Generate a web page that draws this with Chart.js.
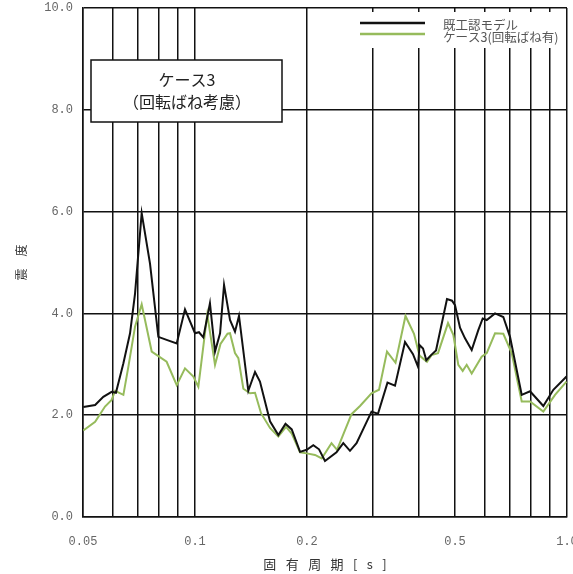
<!DOCTYPE html>
<html lang="ja">
<head>
<meta charset="UTF-8">
<title>ケース3 震度</title>
<script src="https://cdn.jsdelivr.net/npm/chart.js"></script>
<style>
  html, body { margin: 0; padding: 0; background: #fff; }
  #wrap { width: 573px; height: 574px; }
</style>
</head>
<body>
<div id="wrap"><canvas id="chart" width="573" height="574"></canvas></div>
<script>
// 固有周期 [s] と震度
const baseLabel = '既工認モデル';
const basePeriods = [0.0501, 0.0539, 0.0567, 0.0597, 0.0613, 0.0642, 0.0669, 0.0690, 0.0719, 0.0757,
  0.0797, 0.0839, 0.0893, 0.0940, 0.1000, 0.1025, 0.1053, 0.1097, 0.1132, 0.1168,
  0.1197, 0.1242, 0.1281, 0.1313, 0.1391, 0.1450, 0.1495, 0.1591, 0.1675, 0.1751,
  0.1820, 0.1916, 0.1997, 0.2080, 0.2155, 0.2236, 0.2401, 0.2504, 0.2610, 0.2718,
  0.2982, 0.3104, 0.3292, 0.3449, 0.3669, 0.3855, 0.3977, 0.4014, 0.4102, 0.4186,
  0.4310, 0.4445, 0.4758, 0.4908, 0.5000, 0.5157, 0.5319, 0.5544, 0.5775, 0.5935,
  0.6084, 0.6405, 0.6742, 0.7028, 0.7556, 0.7955, 0.8637, 0.9189, 0.9970];
const baseValues = [2.16, 2.20, 2.36, 2.46, 2.44, 3.02, 3.61, 4.39, 5.97, 4.98,
  3.54, 3.48, 3.41, 4.08, 3.61, 3.63, 3.53, 4.20, 3.25, 3.61,
  4.56, 3.87, 3.64, 3.95, 2.48, 2.85, 2.66, 1.88, 1.61, 1.83,
  1.72, 1.28, 1.32, 1.41, 1.33, 1.10, 1.27, 1.45, 1.30, 1.45,
  2.07, 2.03, 2.64, 2.58, 3.44, 3.20, 2.95, 3.38, 3.31, 3.08,
  3.18, 3.27, 4.28, 4.25, 4.16, 3.72, 3.51, 3.28, 3.67, 3.90,
  3.87, 4.00, 3.93, 3.54, 2.40, 2.47, 2.18, 2.50, 2.76];

const caseLabel = 'ケース3(回転ばね有)';
const casePeriods = [0.0501, 0.0539, 0.0573, 0.0597, 0.0610, 0.0642, 0.0662, 0.0690, 0.0719, 0.0765,
  0.0839, 0.0893, 0.0940, 0.0990, 0.1021, 0.1079, 0.1132, 0.1171, 0.1223, 0.1242,
  0.1281, 0.1308, 0.1349, 0.1406, 0.1450, 0.1505, 0.1591, 0.1675, 0.1757, 0.1820,
  0.1916, 0.1997, 0.2102, 0.2191, 0.2328, 0.2409, 0.2635, 0.2777, 0.2982, 0.3124,
  0.3282, 0.3460, 0.3680, 0.3879, 0.4014, 0.4204, 0.4323, 0.4501, 0.4788, 0.4948,
  0.5103, 0.5244, 0.5375, 0.5544, 0.5898, 0.6084, 0.6405, 0.6742, 0.7102, 0.7556,
  0.7955, 0.8637, 0.9286, 0.9970];
const caseValues = [1.70, 1.87, 2.17, 2.30, 2.48, 2.40, 2.95, 3.74, 4.18, 3.25,
  3.05, 2.59, 2.92, 2.76, 2.56, 3.98, 2.99, 3.40, 3.60, 3.61,
  3.22, 3.12, 2.52, 2.43, 2.44, 2.04, 1.75, 1.58, 1.77, 1.64,
  1.27, 1.25, 1.22, 1.15, 1.45, 1.32, 2.02, 2.18, 2.43, 2.50,
  3.25, 3.03, 3.95, 3.60, 3.17, 3.05, 3.18, 3.22, 3.81, 3.58,
  2.99, 2.87, 2.99, 2.82, 3.15, 3.22, 3.61, 3.60, 3.22, 2.27,
  2.27, 2.07, 2.40, 2.66];

const xGridValues = [0.05, 0.06, 0.07, 0.08, 0.09, 0.1, 0.2, 0.3, 0.4, 0.5, 0.6, 0.7, 0.8, 0.9, 1.0];
const xTickLabels = { 0.05: '0.05', 0.1: '0.1', 0.2: '0.2', 0.5: '0.5', 1: '1.0' };
const yTicks = [0, 2, 4, 6, 8, 10];
const noteLines = ['ケース3', '（回転ばね考慮）'];

const jpFont = '"Noto Sans CJK JP", "Noto Sans", sans-serif';
const numFont = '"Liberation Mono", "DejaVu Sans Mono", monospace';

function toXY(periods, values) {
    return periods.map((p, i) => ({ x: p, y: values[i] }));
}

// 注記ボックスと凡例
const overlayPlugin = {
    id: 'overlay',
    afterDatasetsDraw(chart) {
        const ctx = chart.ctx;
        ctx.save();
        // 注記
        ctx.fillStyle = '#fff';
        ctx.fillRect(91, 60, 191, 62);
        ctx.strokeStyle = '#111';
        ctx.lineWidth = 1.5;
        ctx.strokeRect(91, 60, 191, 62);
        ctx.fillStyle = '#222';
        ctx.font = '16px ' + jpFont;
        ctx.textAlign = 'center';
        ctx.textBaseline = 'middle';
        ctx.fillText(noteLines[0], 187, 80);
        ctx.fillText(noteLines[1], 187, 102);

        // 凡例
        ctx.fillStyle = '#fff';
        ctx.fillRect(360, 12, 205, 36);
        const ds = chart.data.datasets;
        const lineRows = [23, 34];
        const textRows = [25, 37];
        ds.forEach((d, i) => {
            ctx.strokeStyle = d.borderColor;
            ctx.lineWidth = 2.5;
            ctx.beginPath();
            ctx.moveTo(360, lineRows[i]);
            ctx.lineTo(425, lineRows[i]);
            ctx.stroke();
            ctx.fillStyle = '#555';
            ctx.font = '12.5px ' + jpFont;
            ctx.textAlign = 'left';
            ctx.textBaseline = 'middle';
            ctx.fillText(d.label, 443, textRows[i]);
        });
        ctx.restore();
    }
};

new Chart(document.getElementById('chart'), {
    type: 'line',
    data: {
        datasets: [
            {
                label: baseLabel,
                data: toXY(basePeriods, baseValues),
                borderColor: '#111111',
                borderWidth: 2,
                pointRadius: 0,
                tension: 0
            },
            {
                label: caseLabel,
                data: toXY(casePeriods, caseValues),
                borderColor: '#96bb5c',
                borderWidth: 2,
                pointRadius: 0,
                tension: 0
            }
        ]
    },
    options: {
        responsive: false,
        animation: false,
        layout: { padding: { top: 8, right: 6, left: 0, bottom: 0 } },
        plugins: {
            legend: { display: false },
            tooltip: { enabled: false }
        },
        scales: {
            x: {
                type: 'logarithmic',
                min: 0.05,
                max: 1.0,
                afterBuildTicks(scale) {
                    scale.ticks = xGridValues.map(v => ({ value: v }));
                },
                afterFit(scale) {
                    scale.height = 57;
                    scale.paddingLeft = 0;
                    scale.paddingRight = 0;
                },
                grid: { color: '#111', lineWidth: 1.5, drawTicks: false },
                border: { color: '#111', width: 1.5 },
                ticks: {
                    autoSkip: false,
                    maxRotation: 0,
                    padding: 18,
                    color: '#666',
                    font: { family: numFont, size: 12 },
                    callback(value) {
                        return xTickLabels[value] || '';
                    }
                },
                title: {
                    display: true,
                    text: '固\u2002 有\u2002 周\u2002 期\u2002 [\u2002 s\u2002 ]',
                    color: '#333',
                    font: { family: jpFont, size: 13 },
                    padding: { top: 0, bottom: 2 }
                }
            },
            y: {
                min: 0,
                max: 10,
                afterBuildTicks(scale) {
                    scale.ticks = yTicks.map(v => ({ value: v }));
                },
                afterFit(scale) {
                    scale.width = 83;
                    scale.paddingTop = 0;
                    scale.paddingBottom = 0;
                },
                grid: { color: '#111', lineWidth: 1.5, drawTicks: false },
                border: { color: '#111', width: 1.5 },
                ticks: {
                    padding: 10,
                    color: '#666',
                    font: { family: numFont, size: 12 },
                    callback(value) {
                        return Number(value).toFixed(1);
                    }
                },
                title: {
                    display: true,
                    text: '震\u3000度',
                    color: '#333',
                    font: { family: jpFont, size: 12 },
                    padding: { top: 14, bottom: 0 }
                }
            }
        }
    },
    plugins: [overlayPlugin]
});
</script>
</body>
</html>
